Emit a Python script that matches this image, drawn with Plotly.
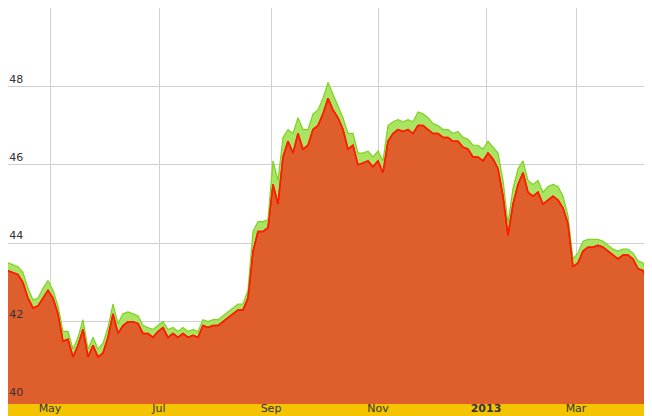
import plotly.graph_objects as go

close = [43.3,43.25,43.2,43.0,42.6,42.35,42.4,42.6,42.8,42.6,42.2,41.5,41.55,41.1,41.4,41.8,41.1,41.4,41.1,41.2,
41.6,42.2,41.7,41.9,42.0,42.0,41.95,41.7,41.7,41.6,41.75,41.85,41.6,41.7,41.6,41.7,41.6,41.65,41.6,41.9,
41.85,41.9,41.9,42.0,42.1,42.2,42.3,42.3,42.6,43.8,44.3,44.3,44.4,45.5,45.0,46.2,46.6,46.3,46.8,46.4,
46.5,46.9,47.0,47.3,47.7,47.4,47.2,46.9,46.4,46.5,46.0,46.05,46.1,45.95,46.1,45.8,46.6,46.8,46.9,46.85,
46.9,46.8,47.0,47.0,46.9,46.8,46.8,46.7,46.7,46.6,46.6,46.45,46.4,46.2,46.2,46.1,46.3,46.15,45.9,45.2,
44.2,45.0,45.5,45.8,45.3,45.2,45.3,45.0,45.1,45.2,45.1,44.9,44.5,43.4,43.5,43.8,43.9,43.9,43.95,43.9,
43.8,43.7,43.6,43.7,43.7,43.6,43.35,43.3,43.0,42.7,41.2]
high = [43.5,43.45,43.4,43.25,42.85,42.55,42.6,42.85,43.05,42.8,42.4,41.75,41.75,41.3,41.6,42.05,41.3,41.6,41.3,41.45,
41.85,42.45,41.95,42.2,42.25,42.2,42.15,41.9,41.85,41.8,41.9,42.0,41.8,41.85,41.75,41.85,41.75,41.8,41.75,42.05,
42.0,42.05,42.05,42.15,42.25,42.35,42.45,42.45,42.8,44.3,44.55,44.55,44.6,46.1,45.6,46.7,46.9,46.8,47.2,46.9,
46.9,47.3,47.4,47.7,48.1,47.8,47.5,47.2,46.8,46.8,46.3,46.3,46.35,46.2,46.35,46.1,47.0,47.1,47.15,47.1,
47.15,47.1,47.35,47.3,47.2,47.05,47.0,46.9,46.9,46.8,46.85,46.7,46.65,46.5,46.5,46.4,46.6,46.45,46.3,45.6,
44.5,45.4,45.9,46.1,45.6,45.5,45.6,45.3,45.45,45.5,45.45,45.2,44.7,43.6,43.75,44.05,44.1,44.1,44.1,44.05,
43.95,43.85,43.8,43.85,43.85,43.75,43.55,43.5,43.2,42.9,41.6]
tick_pos = [8.4, 30.2, 52.6, 74.0, 95.6, 113.6]
tick_labels = ["May", "Jul", "Sep", "Nov", "<b>2013</b>", "Mar"]
y_ticks = [40, 42, 44, 46, 48]

x = list(range(len(close)))
fig = go.Figure()
fig.add_trace(go.Scatter(x=x, y=close, mode="lines", line=dict(color="#FF1A00", width=1.5),
                         fill="tozeroy", fillcolor="#DE5F2C", hoverinfo="skip"))
fig.add_trace(go.Scatter(x=x, y=high, mode="lines", line=dict(color="#7ED321", width=1.2),
                         fill="tonexty", fillcolor="#A9E463", hoverinfo="skip"))
fig.add_trace(go.Scatter(x=x, y=close, mode="lines", line=dict(color="#FF1A00", width=1.5), hoverinfo="skip"))

fig.add_shape(type="rect", xref="paper", yref="paper", x0=0, x1=1, y0=-0.06, y1=0,
              fillcolor="#F5C400", line=dict(width=0), layer="below")
fig.update_layout(
    width=652, height=416, margin=dict(l=0, r=2, t=0, b=20, pad=0),
    plot_bgcolor="white", paper_bgcolor="white", showlegend=False,
    font=dict(family="DejaVu Sans", size=11, color="#333333"),
    xaxis=dict(range=[0, 130], tickvals=tick_pos, ticktext=tick_labels, showgrid=True,
               gridcolor="#D0D0D0", zeroline=False, ticks="", automargin=False, ticklabelstandoff=-4,
               tickfont=dict(size=11, color="#333333")),
    yaxis=dict(range=[39.9, 50.0], tickvals=y_ticks, ticklabelposition="inside top", showgrid=True,
               gridcolor="#D0D0D0", zeroline=False, showline=True, linecolor="#AAAAAA", automargin=False,
               tickfont=dict(size=11, color="#333333")),
)
fig.write_html("out.html")
